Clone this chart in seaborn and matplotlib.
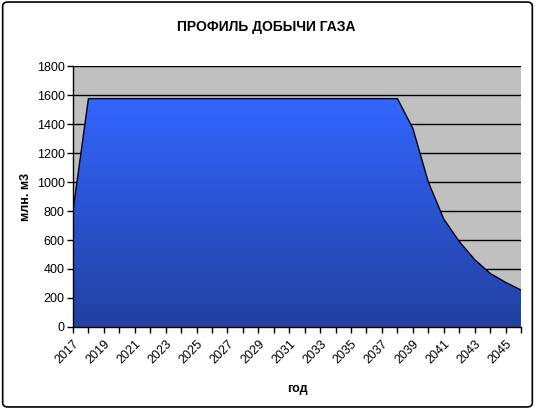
import numpy as np
import pandas as pd
import seaborn as sns
import matplotlib.pyplot as plt
from matplotlib.patches import FancyBboxPatch
from matplotlib.colors import LinearSegmentedColormap

years = list(range(2017, 2047))
gas = [800, 1575, 1575, 1575, 1575, 1575, 1575, 1575, 1575, 1575,
       1575, 1575, 1575, 1575, 1575, 1575, 1575, 1575, 1575, 1575,
       1575, 1575, 1370, 1000, 745, 590, 465, 370, 308, 255]
tick_labels = [str(y) for y in range(2017, 2046, 2)]

df = pd.DataFrame({"year": years, "gas": gas})

sns.set_theme(style="white")
plt.rcParams['font.family'] = ['Liberation Sans', 'DejaVu Sans']
plt.rcParams['text.color'] = 'black'
plt.rcParams['axes.labelcolor'] = 'black'
plt.rcParams['xtick.color'] = 'black'
plt.rcParams['ytick.color'] = 'black'

fig = plt.figure(figsize=(5.35, 4.09), dpi=100)
ax = fig.add_axes([0.1364, 0.2005, 0.8374, 0.6381])
ax.set_facecolor("#C0C0C0")

# area with vertical gradient
poly = ax.fill_between(df.year, df.gas, 0, color="none", lw=0)
cmap = LinearSegmentedColormap.from_list("g", ["#2240A0", "#3366FF"])
grad = np.linspace(0, 1, 256).reshape(-1, 1)
img = ax.imshow(grad, cmap=cmap, aspect="auto", origin="lower",
                extent=[2017, 2046, 0, 1575], zorder=2)
img.set_clip_path(poly.get_paths()[0], transform=ax.transData)
sns.lineplot(data=df, x="year", y="gas", ax=ax, color="black", lw=1, zorder=3)

ax.set_xlim(2017, 2046)
ax.set_ylim(0, 1800)
ax.set_yticks(range(0, 1801, 200))
ax.set_xticks(years)
ax.set_xticklabels([str(y) if str(y) in tick_labels else "" for y in years],
                   rotation=45, ha="right", rotation_mode="anchor", fontsize=9)
ax.tick_params(axis="y", labelsize=9, length=4, width=1, direction="out", left=True, pad=2)
ax.tick_params(axis="x", length=4, width=1, direction="out", bottom=True, pad=4)
ax.grid(axis="y", color="black", lw=1)
ax.set_axisbelow(True)
for s in ["top", "right"]:
    ax.spines[s].set_visible(False)
for s in ["left", "bottom"]:
    ax.spines[s].set_color("black")
    ax.spines[s].set_linewidth(1)

ax.set_xlabel("год", fontsize=9, fontweight="bold", labelpad=12)
ax.set_ylabel("млн. м3", fontsize=9, fontweight="bold", labelpad=3)
fig.text(0.497, 0.935, "ПРОФИЛЬ ДОБЫЧИ ГАЗА", ha="center", va="center",
         fontsize=10, fontweight="bold")

border = FancyBboxPatch((0.005, 0.005), 0.99, 0.99, boxstyle="round,pad=0,rounding_size=0.01",
                        transform=fig.transFigure, fill=False, ec="black", lw=1.2)
fig.patches.append(border)

fig.savefig("out.png", dpi=100)
